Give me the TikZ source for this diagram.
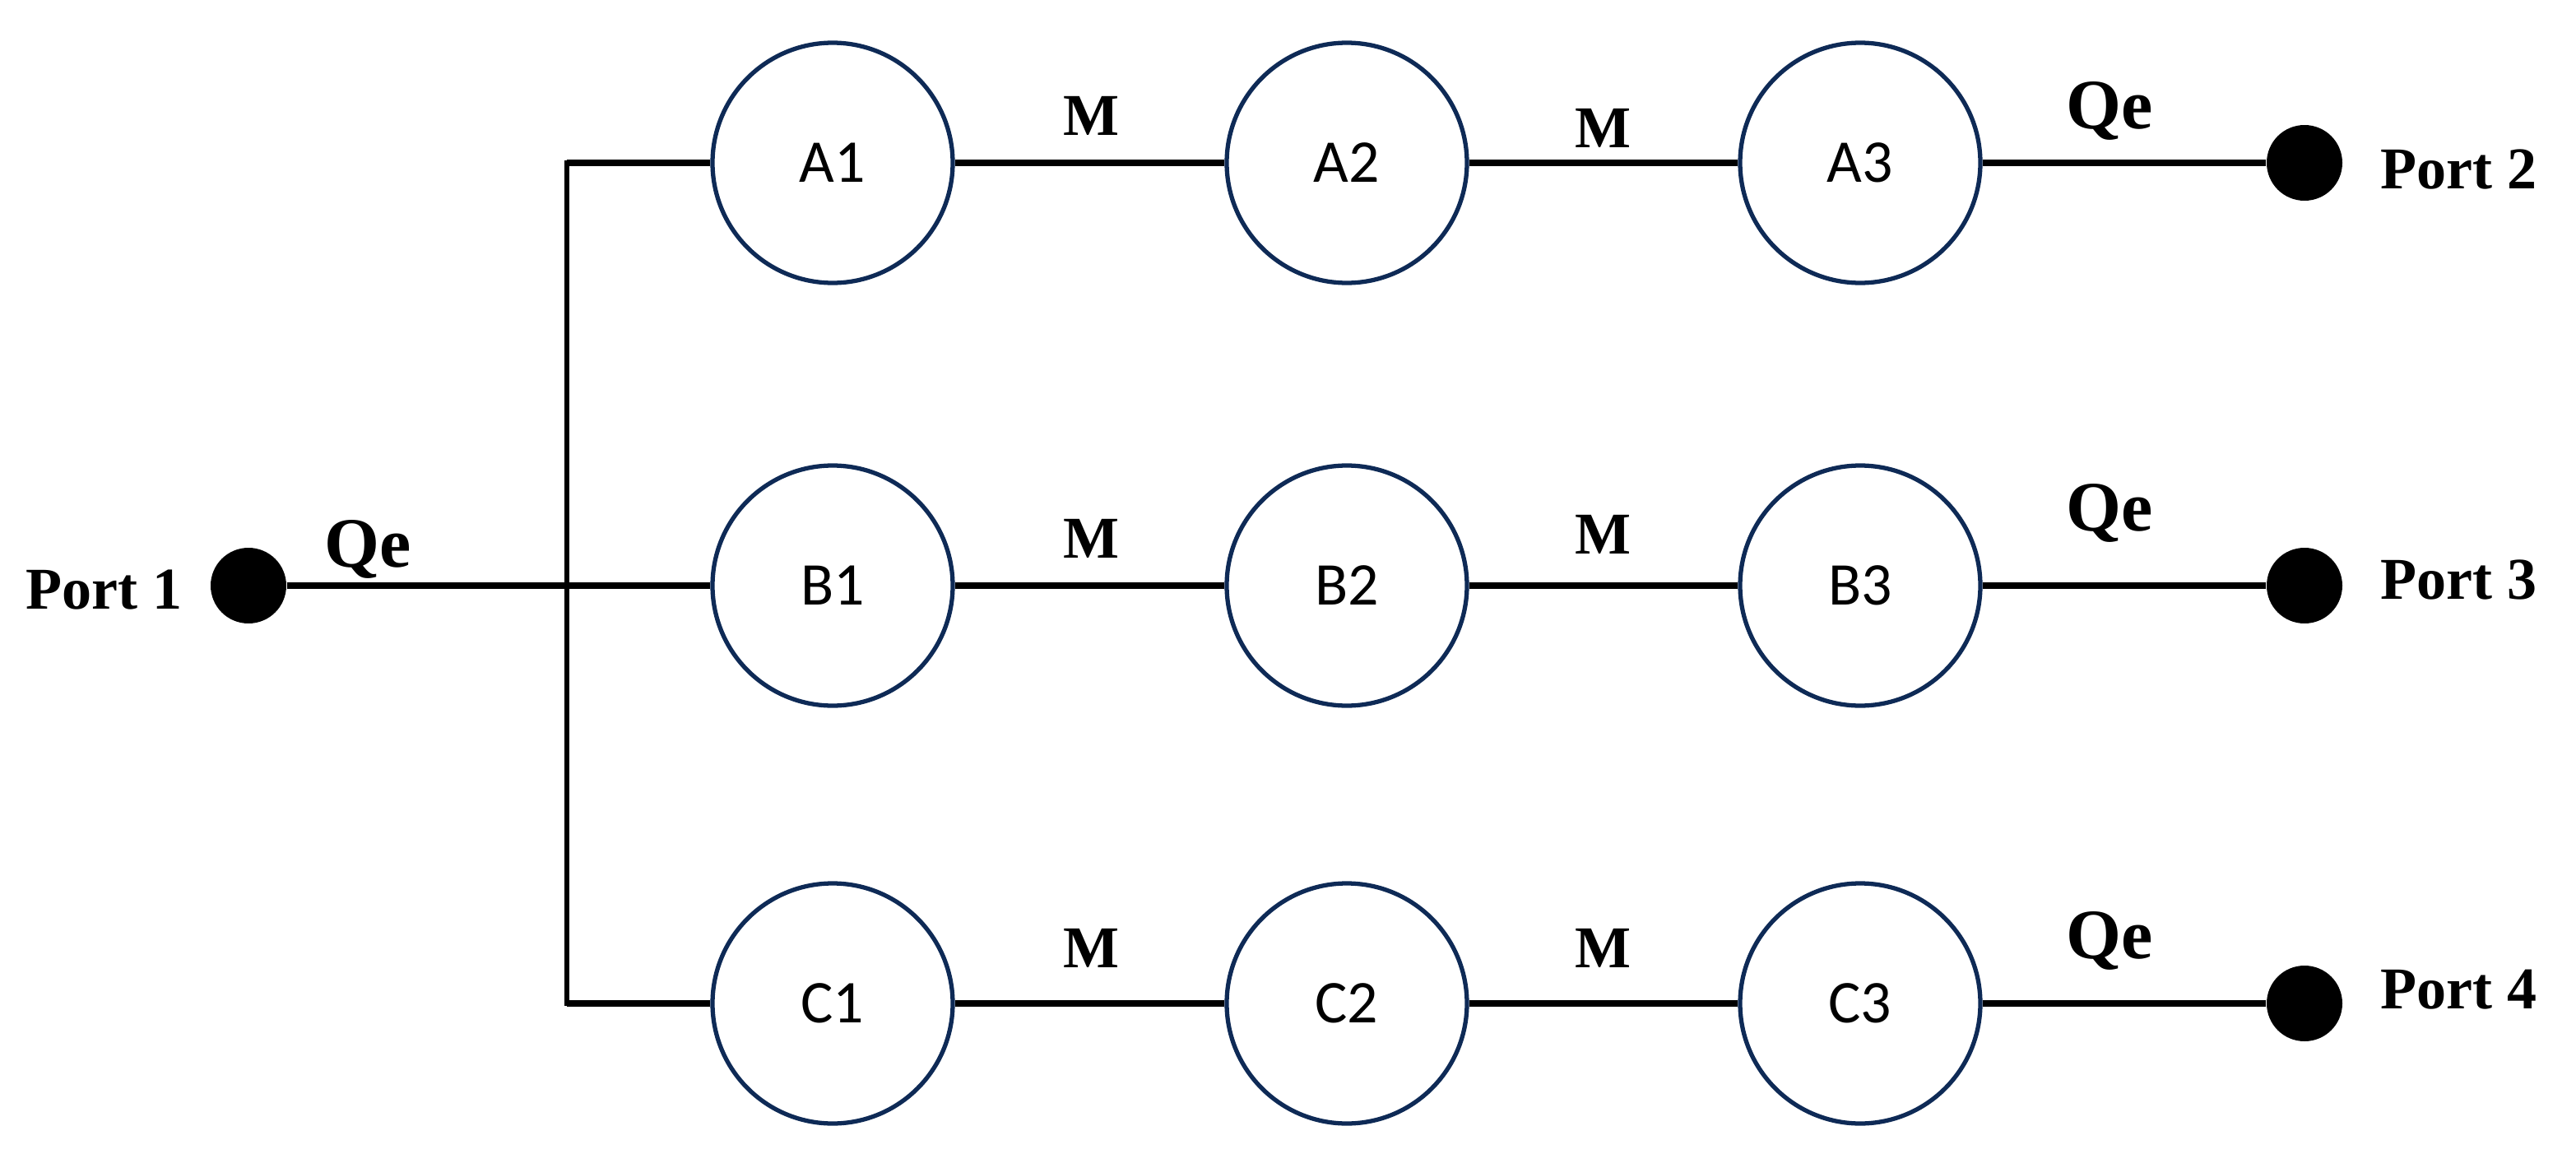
\documentclass[tikz,border=0pt]{standalone}
\usepackage{fontspec}
\setmainfont{Liberation Serif}
\newfontfamily\lblfont{Carlito}
\definecolor{navy}{HTML}{0E2A56}
\begin{document}
\begin{tikzpicture}[
  res/.style={circle, draw=navy, line width=1.5pt, minimum size=2.92cm, inner sep=0pt, font=\lblfont\fontsize{21}{21}\selectfont},
  portdot/.style={circle, fill=black, minimum size=0.92cm, inner sep=0pt},
  wire/.style={line width=2.2pt, black},
  bus/.style={line width=1.6pt, black},
  mlbl/.style={inner sep=0pt, font=\bfseries\fontsize{20.5}{20.5}\selectfont},
  qlbl/.style={inner sep=0pt, anchor=base west, font=\bfseries\fontsize{24.5}{24.5}\selectfont},
  plbl/.style={inner sep=0pt, font=\bfseries\fontsize{20.5}{20.5}\selectfont}
]
\useasboundingbox (0,0) rectangle (31.31,14.13);

% resonators
\node[res] (A1) at (10.12,12.15) {A1};
\node[res] (A2) at (16.37,12.15) {A2};
\node[res] (A3) at (22.61,12.15) {A3};
\node[res] (B1) at (10.12,7.01) {B1};
\node[res] (B2) at (16.37,7.01) {B2};
\node[res] (B3) at (22.61,7.01) {B3};
\node[res] (C1) at (10.12,1.93) {C1};
\node[res] (C2) at (16.37,1.93) {C2};
\node[res] (C3) at (22.61,1.93) {C3};

% ports
\node[portdot] (P1) at (3.02,7.01) {};
\node[portdot] (P2) at (28.01,12.15) {};
\node[portdot] (P3) at (28.01,7.01) {};
\node[portdot] (P4) at (28.01,1.93) {};

% bus coordinates
\coordinate (busT) at (6.89,12.15);
\coordinate (busM) at (6.89,7.01);
\coordinate (busB) at (6.89,1.93);

% wires
\draw[bus] ([yshift=0.8pt]busT) -- ([yshift=-0.8pt]busB);
\draw[wire] (busT) -- (A1);
\draw[wire] (P1) -- (busM) -- (B1);
\draw[wire] (busB) -- (C1);
\draw[wire] (A1) -- (A2);
\draw[wire] (A2) -- (A3);
\draw[wire] (A3) -- (P2);
\draw[wire] (B1) -- (B2);
\draw[wire] (B2) -- (B3);
\draw[wire] (B3) -- (P3);
\draw[wire] (C1) -- (C2);
\draw[wire] (C2) -- (C3);
\draw[wire] (C3) -- (P4);

% coupling labels
\node[mlbl] (mA1) at (13.26,12.72) {M};
\node[mlbl] (mA2) at (19.48,12.57) {M};
\node[mlbl] (mB1) at (13.26,7.58) {M};
\node[mlbl] (mB2) at (19.48,7.63) {M};
\node[mlbl] (mC1) at (13.26,2.60) {M};
\node[mlbl] (mC2) at (19.48,2.60) {M};

\node[qlbl] (q1) at (3.94,7.24) {Qe};
\node[qlbl] (q2) at (25.11,12.56) {Qe};
\node[qlbl] (q3) at (25.11,7.68) {Qe};
\node[qlbl] (q4) at (25.11,2.48) {Qe};

% port labels
\node[plbl, anchor=east] (t1) at (2.22,6.96) {Port 1};
\node[plbl, anchor=west] (t2) at (28.93,12.07) {Port 2};
\node[plbl, anchor=west] (t3) at (28.93,7.08) {Port 3};
\node[plbl, anchor=west] (t4) at (28.93,2.10) {Port 4};
\end{tikzpicture}
\end{document}
